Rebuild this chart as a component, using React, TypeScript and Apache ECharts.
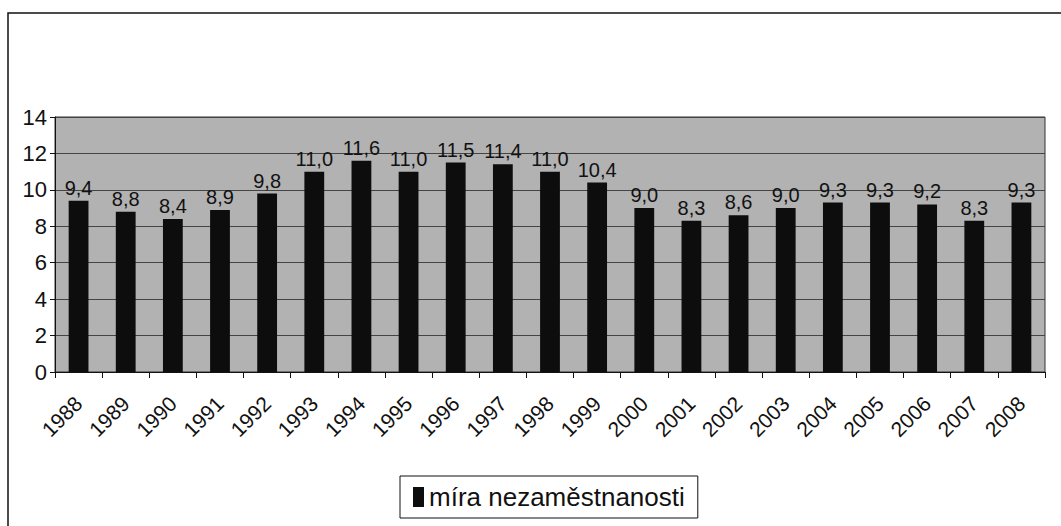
import React, { useEffect, useRef } from "react";
import * as echarts from "echarts";

const years = ["1988","1989","1990","1991","1992","1993","1994","1995","1996","1997","1998","1999","2000","2001","2002","2003","2004","2005","2006","2007","2008"];
const unemployment = [9.4, 8.8, 8.4, 8.9, 9.8, 11.0, 11.6, 11.0, 11.5, 11.4, 11.0, 10.4, 9.0, 8.3, 8.6, 9.0, 9.3, 9.3, 9.2, 8.3, 9.3];
const seriesName = "míra nezaměstnanosti";
const yTicks = { min: 0, max: 14, interval: 2 };

export default function App() {
  const ref = useRef<HTMLDivElement>(null);
  useEffect(() => {
    document.body.style.margin = "0";
    const chart = echarts.init(ref.current!, null, { renderer: "svg" });
    const font = "'Liberation Sans', Arial, sans-serif";
    chart.setOption({
      animation: false,
      backgroundColor: "#ffffff",
      textStyle: { fontFamily: font },
      grid: {
        left: 55, right: 16, top: 117, bottom: 154,
        show: true, backgroundColor: "#b2b2b2", borderColor: "#333", borderWidth: 1,
      },
      graphic: [
        { type: "rect", shape: { x: 8, y: 13, width: 1070, height: 540 }, style: { fill: "none", stroke: "#111", lineWidth: 1.5 }, z: -1 },
      ],
      legend: {
        left: 400, top: 476, width: 300,
        data: [seriesName],
        icon: "rect", itemWidth: 11, itemHeight: 20, itemGap: 6,
        borderColor: "#111", borderWidth: 1, padding: [8, 13, 8, 13],
        textStyle: { fontSize: 26, color: "#111", fontFamily: font },
      },
      xAxis: {
        type: "category",
        data: years,
        axisLine: { lineStyle: { color: "#111", width: 1 } },
        axisTick: { show: true, length: 6, lineStyle: { color: "#111" } },
        axisLabel: { rotate: 45, fontSize: 21, color: "#111", margin: 28, fontFamily: font },
      },
      yAxis: {
        type: "value",
        min: yTicks.min, max: yTicks.max, interval: yTicks.interval,
        axisLine: { show: true, lineStyle: { color: "#111" } },
        axisTick: { show: true, length: 5, lineStyle: { color: "#111" } },
        axisLabel: { fontSize: 22, color: "#111", margin: 8, fontFamily: font },
        splitLine: { lineStyle: { color: "#444", width: 1 } },
      },
      series: [{
        name: seriesName,
        type: "bar",
        data: unemployment,
        barWidth: "42%",
        itemStyle: { color: "#0d0d0d" },
        label: {
          show: true, position: "top", distance: 3, fontSize: 20, color: "#111", fontFamily: font,
          formatter: (p: any) => p.value.toFixed(1).replace(".", ","),
        },
      }],
    });
    return () => chart.dispose();
  }, []);
  return <div ref={ref} style={{ width: 1061, height: 526 }} />;
}
